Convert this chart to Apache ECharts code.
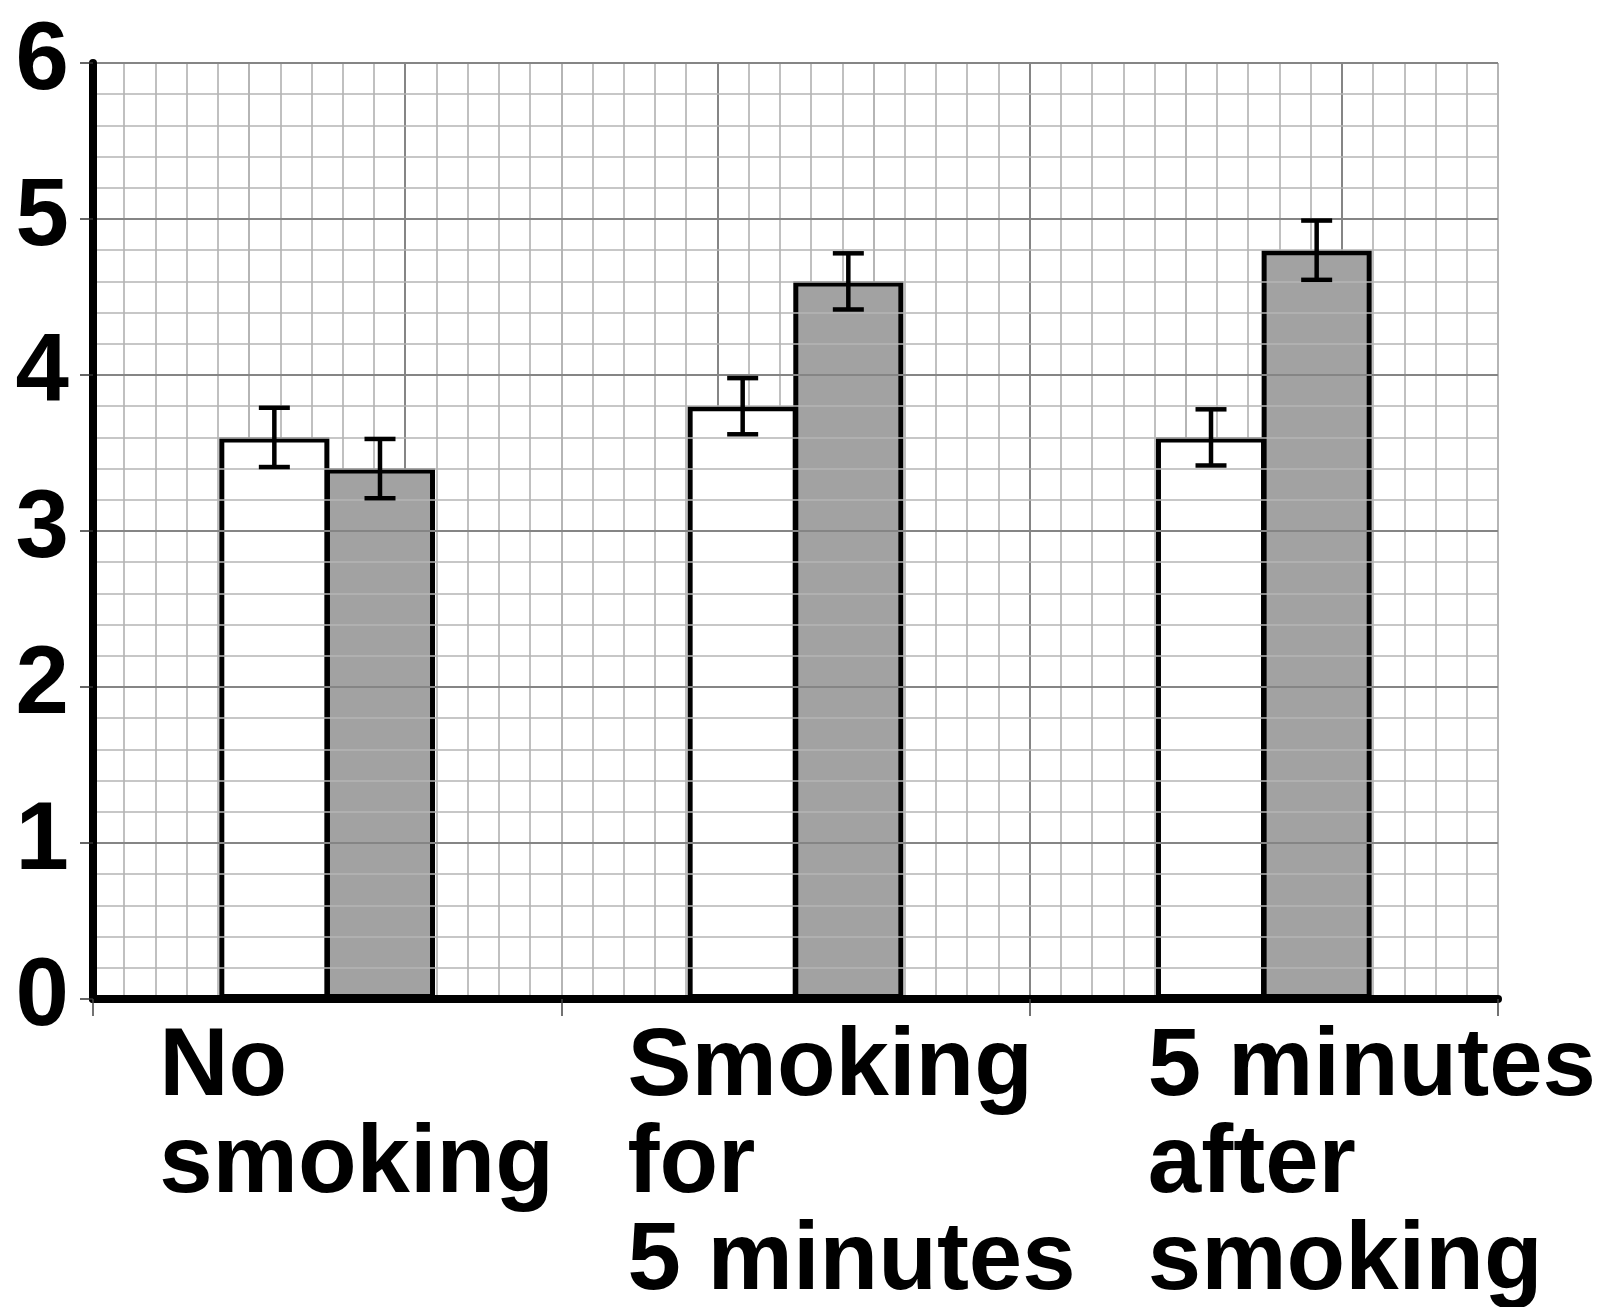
<!DOCTYPE html>
<html>
<head>
<meta charset="utf-8">
<script src="https://cdn.jsdelivr.net/npm/echarts@6/dist/echarts.min.js"></script>
<style>
html,body{margin:0;padding:0;background:#fff;}
#chart{width:1609px;height:1307px;}
</style>
</head>
<body>
<div id="chart"></div>
<script>
// ---- data ----
const categories = ['No\nsmoking', 'Smoking\nfor\n5 minutes', '5 minutes\nafter\nsmoking'];
const whiteValues = [3.6, 3.8, 3.6];
const grayValues = [3.4, 4.6, 4.8];
const whiteErrors = [0.19, 0.18, 0.18];
const grayErrors = [0.19, 0.18, 0.19];
const yMin = 0, yMax = 6, yInterval = 1;

// ---- styling ----
const FONT = '"Liberation Sans", Arial, Helvetica, sans-serif';
const BAR_FRAC = 0.235;
const GAP_FRAC = -0.04;
const MINOR = '#b5b5b5';
const MAJOR = '#858585';

const chart = echarts.init(document.getElementById('chart'), null, {renderer: 'canvas'});

const errWhite = whiteValues.map((v, i) => [i, v, whiteErrors[i], -1]);
const errGray = grayValues.map((v, i) => [i, v, grayErrors[i], 1]);

function renderErr(params, api) {
  const cat = api.value(0), val = api.value(1), err = api.value(2), side = api.value(3);
  const c = api.coord([cat, val]);
  const bw = api.size([1, 0])[0] * BAR_FRAC;
  const step = bw * (1 + GAP_FRAC);
  const x = c[0] + side * step / 2;
  const top = api.coord([cat, val + err])[1];
  const bot = api.coord([cat, val - err])[1];
  const half = 15.5;
  const st = {stroke: '#000', lineWidth: 4.5};
  return {
    type: 'group',
    children: [
      {type: 'line', shape: {x1: x, y1: top, x2: x, y2: bot}, style: st},
      {type: 'line', shape: {x1: x - half, y1: top, x2: x + half, y2: top}, style: st},
      {type: 'line', shape: {x1: x - half, y1: bot, x2: x + half, y2: bot}, style: st}
    ]
  };
}

const labelBase = {fontSize: 96, fontWeight: 'bold', fontFamily: FONT, lineHeight: 97, color: '#000', align: 'left'};

const option = {
  animation: false,
  backgroundColor: '#fff',
  grid: {left: 93, right: 111, top: 63, bottom: 308, containLabel: false, outerBoundsMode: 'none'},
  xAxis: [
    {
      type: 'category',
      data: categories,
      boundaryGap: true,
      axisLine: {show: true, lineStyle: {color: '#000', width: 8}},
      axisTick: {show: true, length: 17, lineStyle: {color: '#444', width: 1.5}},
      splitLine: {show: false},
      axisLabel: {
        interval: 0,
        margin: 21,
        align: 'center',
        verticalAlign: 'top',
        formatter: function (value, index) {
          const key = index === 2 ? 'b' : 'a';
          return value.split('\n').map(l => '{' + key + '|' + l + '}').join('\n');
        },
        rich: {
          a: Object.assign({width: 336}, labelBase),
          b: Object.assign({width: 232}, labelBase)
        }
      },
      z: 5
    },
    {
      type: 'value',
      min: 0, max: 45, interval: 5,
      position: 'bottom',
      axisLine: {show: false},
      axisTick: {show: false},
      axisLabel: {show: false},
      splitLine: {show: true, lineStyle: {color: [MAJOR, MINOR], width: 2}},
      minorTick: {show: false, splitNumber: 5},
      minorSplitLine: {show: true, lineStyle: {color: MINOR, width: 1.7}}
    }
  ],
  yAxis: {
    type: 'value',
    min: yMin, max: yMax, interval: yInterval,
    axisLine: {show: true, lineStyle: {color: '#000', width: 8}},
    axisTick: {show: true, length: 13, lineStyle: {color: '#333', width: 1.5}},
    axisLabel: {
      margin: 24,
      fontSize: 96, fontWeight: 'bold', fontFamily: FONT, color: '#000',
      padding: [0, 0, 24, 0]
    },
    splitLine: {show: true, lineStyle: {color: MAJOR, width: 2.2}},
    minorTick: {show: false, splitNumber: 5},
    minorSplitLine: {show: true, lineStyle: {color: MINOR, width: 1.7}},
    z: 5
  },
  series: [
    {
      name: 'white', type: 'bar', xAxisIndex: 0, data: whiteValues,
      barWidth: (BAR_FRAC * 100) + '%', barGap: (GAP_FRAC * 100) + '%',
      itemStyle: {color: '#ffffff', borderColor: '#000', borderWidth: 5},
      z: 3
    },
    {
      name: 'gray', type: 'bar', xAxisIndex: 0, data: grayValues,
      barWidth: (BAR_FRAC * 100) + '%', barGap: (GAP_FRAC * 100) + '%',
      itemStyle: {color: '#a2a2a2', borderColor: '#000', borderWidth: 5},
      z: 3
    },
    {
      type: 'custom', xAxisIndex: 0, renderItem: renderErr, data: errWhite,
      encode: {x: 0, y: 1}, z: 6, silent: true
    },
    {
      type: 'custom', xAxisIndex: 0, renderItem: renderErr, data: errGray,
      encode: {x: 0, y: 1}, z: 6, silent: true
    }
  ]
};
chart.setOption(option);
</script>
</body>
</html>
